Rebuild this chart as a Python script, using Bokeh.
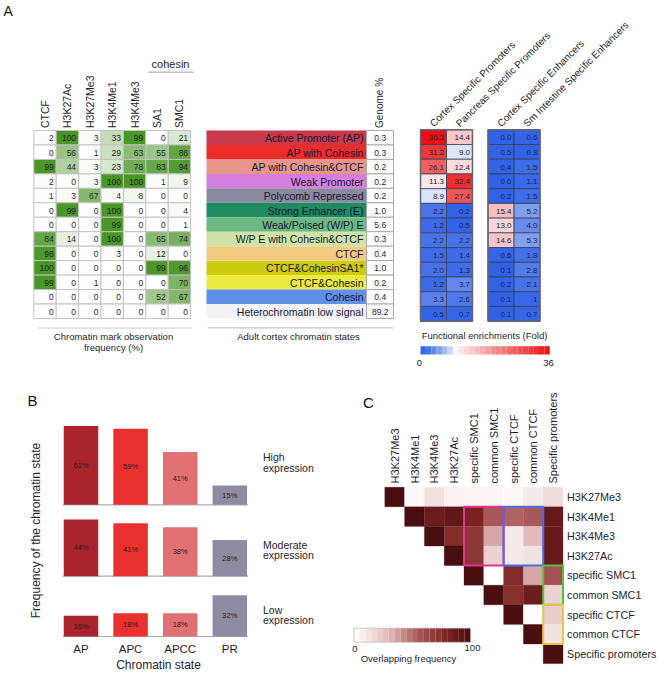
import math
from bokeh.plotting import figure
from bokeh.models import Range1d
from bokeh.core.properties import value
from bokeh.embed import file_html
from bokeh.resources import INLINE

FONT = value("Liberation Sans")

# ---------------- Panel A data ----------------
mark_names = ["CTCF", "H3K27Ac", "H3K27Me3", "H3K4Me1", "H3K4Me3", "SA1", "SMC1"]
state_names = ["Active Promoter (AP)", "AP with Cohesin", "AP with Cohesin&CTCF", "Weak Promoter",
               "Polycomb Repressed", "Strong Enhancer (E)", "Weak/Poised (W/P) E",
               "W/P E with Cohesin&CTCF", "CTCF", "CTCF&CohesinSA1*", "CTCF&Cohesin", "Cohesin",
               "Heterochromatin low signal"]
state_colors = ["#c8394b", "#ec2b2b", "#e8968c", "#d57fe0", "#8c8aa0", "#1f8a60", "#6cb884",
                "#cfe4a8", "#f3cc84", "#cdcc10", "#ecec40", "#6090e8", "#f3f3f3"]
freq_ctcf = [2, 0, 99, 2, 1, 0, 0, 84, 98, 100, 99, 0, 0]
freq_h3k27ac = [100, 56, 44, 0, 3, 99, 0, 14, 0, 0, 0, 0, 0]
freq_h3k27me3 = [3, 1, 3, 3, 67, 0, 0, 0, 0, 0, 1, 0, 0]
freq_h3k4me1 = [33, 29, 23, 100, 4, 100, 99, 100, 3, 0, 0, 0, 0]
freq_h3k4me3 = [99, 63, 78, 100, 8, 0, 0, 0, 0, 0, 0, 0, 0]
freq_sa1 = [0, 55, 83, 1, 0, 0, 0, 65, 12, 99, 0, 52, 0]
freq_smc1 = [21, 86, 94, 9, 0, 4, 1, 74, 0, 96, 70, 67, 0]
genome_pct = [0.3, 0.3, 0.2, 0.2, 0.2, 1.0, 5.6, 0.3, 0.4, 1.0, 0.2, 0.4, 89.2]

enrich_names = ["Cortex Specific Promoters", "Pancreas Specific Promoters",
                "Cortex Specific Enhancers", "Sm Intestine Specific Enhancers"]
cortex_prom = [36.3, 31.2, 26.1, 11.3, 8.9, 2.2, 1.2, 2.2, 1.5, 2.0, 1.2, 3.3, 0.5]
pancreas_prom = [14.4, 9.0, 12.4, 32.4, 27.4, 0.2, 0.5, 2.2, 1.4, 1.3, 3.7, 2.6, 0.7]
cortex_enh = [0.0, 0.5, 0.4, 0.0, 0.2, 15.4, 13.0, 14.6, 0.6, 0.1, 0.2, 0.1, 0.1]
smint_enh = [0.6, 0.3, 1.5, 1.1, 1.5, 5.2, 4.0, 5.3, 1.8, 2.8, 2.1, 1, 0.7]
enrich_max = 36

# ---------------- Panel B data ----------------
b_states = ["AP", "APC", "APCC", "PR"]
b_colors = ["#a8232b", "#e8302f", "#e07276", "#8e8ba2"]
b_high = [61, 59, 41, 15]
b_moderate = [44, 41, 38, 28]
b_low = [16, 18, 18, 32]
b_levels = [("High", "expression"), ("Moderate", "expression"), ("Low", "expression")]

# ---------------- Panel C data ----------------
c_names = ["H3K27Me3", "H3K4Me1", "H3K4Me3", "H3K27Ac", "specific SMC1", "common SMC1",
           "specific CTCF", "common CTCF", "Specific promoters"]
c_rows = [
    [100, 3, 14, 6, 5, 5, 3, 10, 16],
    [100, 86, 90, 80, 55, 52, 55, 88],
    [100, 76, 70, 35, 10, 30, 88],
    [100, 70, 20, 10, 13, 88],
    [100, 0, 76, 35, 58],
    [100, 74, 86, 20],
    [100, 0, 22],
    [100, 12],
    [100],
]


def hexc(c):
    return "#%02x%02x%02x" % tuple(int(round(max(0, min(255, v)))) for v in c)


def lerp(a, b, t):
    return tuple(a[k] + (b[k] - a[k]) * t for k in range(3))


def green(v):
    return hexc(lerp((255, 255, 255), (72, 150, 36), v / 100.0))


def enrich_color(v):
    mid = 10.0
    if v <= mid:
        t = (v / mid) ** 1.4
        return hexc(lerp((48, 98, 232), (250, 250, 252), t))
    t = ((v - mid) / (enrich_max - mid)) ** 0.9
    return hexc(lerp((250, 246, 246), (236, 16, 16), min(t, 1)))


maroon_stops = [(0.0, (255, 255, 255)), (0.3, (226, 188, 188)), (0.55, (168, 88, 88)),
                (0.8, (122, 34, 34)), (1.0, (72, 14, 16))]


def maroon(v):
    t = v / 100.0
    for (t0, c0), (t1, c1) in zip(maroon_stops[:-1], maroon_stops[1:]):
        if t <= t1:
            return hexc(lerp(c0, c1, (t - t0) / (t1 - t0)))
    return hexc(maroon_stops[-1][1])


p = figure(width=658, height=673, x_range=Range1d(0, 658), y_range=Range1d(673, 0),
           x_axis_type=None, y_axis_type=None, output_backend="svg", toolbar_location=None,
           min_border=0, outline_line_color=None, background_fill_color="white")


def txt(x, y, s, size, align="center", baseline="middle", angle=0.0, color="#222222", style="normal"):
    if not isinstance(x, list):
        x, y, s = [x], [y], [s]
    p.text(x=x, y=y, text=s, text_font=FONT, text_font_size=size, text_align=align,
           text_baseline=baseline, angle=angle, text_color=color, text_font_style=style)


TXT = "#1e1e2a"

# ======== Panel A ========
txt(3, 2, "A", "14px", align="left", baseline="top", color="#111111")

# left heatmap: mark observation frequency
LX0, LCW, LY0, LRH = 33.3, 22.4, 130.0, 14.46
freq_cols = [freq_ctcf, freq_h3k27ac, freq_h3k27me3, freq_h3k4me1, freq_h3k4me3, freq_sa1, freq_smc1]
L, R, T, B, C, TX, TY, TS = [], [], [], [], [], [], [], []
for j, col in enumerate(freq_cols):
    for i, v in enumerate(col):
        l = LX0 + j * LCW
        t = LY0 + i * LRH
        L.append(l); R.append(l + LCW); T.append(t); B.append(t + LRH); C.append(green(v))
        TX.append(l + LCW - 2.5); TY.append(t + LRH / 2 + 0.5); TS.append(str(v))
p.quad(left=L, right=R, top=T, bottom=B, fill_color=C, line_color="#c2c2c2", line_width=1)
txt(TX, TY, TS, "8.5px", align="right", color=TXT)
txt([LX0 + (j + 0.5) * LCW for j in range(len(mark_names))], [127.5] * len(mark_names),
    mark_names, "10.5px", align="left", angle=math.pi / 2, color=TXT)
txt(170, 63.5, "cohesin", "11px", color=TXT)
p.segment(x0=[148], y0=[71.7], x1=[193], y1=[71.7], line_color="#bdbdbd", line_width=1.5)
p.segment(x0=[37], y0=[327.5], x1=[192], y1=[327.5], line_color="#c8c8c8", line_width=1.2)
txt(113, 336, "Chromatin mark observation", "9.5px", color=TXT)
txt(113, 346.5, "frequency (%)", "9.5px", color=TXT)

# chromatin states column
SX0, SX1, GX1 = 206.0, 365.5, 393.0
n = len(state_names)
p.quad(left=[SX0] * n, right=[SX1] * n, top=[LY0 + i * LRH for i in range(n)],
       bottom=[LY0 + (i + 1) * LRH for i in range(n)], fill_color=state_colors, line_color=None)
txt([SX1 - 2.5] * n, [LY0 + (i + 0.5) * LRH + 0.5 for i in range(n)], state_names, "10.5px",
    align="right", color="#161630")
p.quad(left=[SX1 + 0.5] * n, right=[GX1] * n, top=[LY0 + i * LRH for i in range(n)],
       bottom=[LY0 + (i + 1) * LRH for i in range(n)], fill_color="white", line_color="#a8a8a8",
       line_width=1)
txt([(SX1 + GX1) / 2 + 0.5] * n, [LY0 + (i + 0.5) * LRH + 0.5 for i in range(n)],
    ["%.1f" % v for v in genome_pct], "8.5px", color=TXT)
txt((SX1 + GX1) / 2, 127.5, "Genome %", "10px", align="left", angle=math.pi / 2, color=TXT)
p.segment(x0=[207], y0=[327.3], x1=[393], y1=[327.3], line_color="#c8c8c8", line_width=1.2)
txt(298, 335.5, "Adult cortex chromatin states", "9.5px", color=TXT)

# functional enrichment heatmaps
EY0, ERH, ECW = 129.3, 14.72, 26.0
block_x = [420.0, 446.0, 487.5, 513.5]
enrich_cols = [cortex_prom, pancreas_prom, cortex_enh, smint_enh]
L, R, T, B, C, TX, TY, TS = [], [], [], [], [], [], [], []
for j, col in enumerate(enrich_cols):
    for i, v in enumerate(col):
        l = block_x[j]
        t = EY0 + i * ERH
        L.append(l); R.append(l + ECW); T.append(t); B.append(t + ERH); C.append(enrich_color(v))
        TX.append(l + ECW - 2.5); TY.append(t + ERH / 2 + 0.5)
        TS.append(str(v) if isinstance(v, int) else "%.1f" % v)
p.quad(left=L, right=R, top=T, bottom=B, fill_color=C, line_color="#3c3c55", line_width=0.8)
for bx in (block_x[0], block_x[2]):
    p.quad(left=[bx], right=[bx + 2 * ECW], top=[EY0], bottom=[EY0 + n * ERH], fill_color=None,
           line_color="#666677", line_width=1.5)
txt(TX, TY, TS, "8px", align="right", color="#22223a")
txt([bx + ECW / 2 - 2 for bx in block_x], [124.5] * 4, enrich_names, "10px", align="left",
    angle=math.pi / 4, color=TXT)

# enrichment colour bar
CB_X0, CB_X1, CB_Y0, CB_Y1, NSTEP = 420.0, 549.3, 345.7, 354.0, 24
step_w = (CB_X1 - CB_X0) / NSTEP
p.quad(left=[CB_X0 + k * step_w for k in range(NSTEP)],
       right=[CB_X0 + (k + 1) * step_w for k in range(NSTEP)],
       top=[CB_Y0] * NSTEP, bottom=[CB_Y1] * NSTEP,
       fill_color=[enrich_color((k + 0.5) / NSTEP * enrich_max) for k in range(NSTEP)],
       line_color=None)
txt(484, 335, "Functional enrichments (Fold)", "9.5px", color=TXT)
txt(419, 362.5, "0", "9.5px", color=TXT)
txt(548, 362.5, str(enrich_max), "9.5px", color=TXT)

# ======== Panel B ========
txt(32, 400, "B", "15px", color="#111111")
BX0, BDX, BW, SCALE = 80.5, 49.6, 34.5, 1.29
baselines = [504.3, 575.7, 636.0]
level_vals = [b_high, b_moderate, b_low]
level_label_y = [461.5, 549.0, 614.3]
for lv, base, ly, (w1, w2) in zip(level_vals, baselines, level_label_y, b_levels):
    xs = [BX0 + k * BDX for k in range(len(b_states))]
    p.segment(x0=[xs[0] - BW / 2 - 1], y0=[base], x1=[xs[-1] + BW / 2 + 1], y1=[base],
              line_color="#a9a9b0", line_width=1.2)
    p.vbar(x=xs, width=BW, bottom=[base] * len(xs), top=[base - v * SCALE for v in lv],
           fill_color=b_colors, line_color=None)
    txt(xs, [base - v * SCALE / 2 for v in lv], ["%d%%" % v for v in lv], "7.5px",
        color="#3a1518")
    txt(262.5, ly - 5, w1, "10.5px", align="left", color=TXT)
    txt(262.5, ly + 5.5, w2, "10.5px", align="left", color=TXT)
txt([BX0 + k * BDX for k in range(len(b_states))], [648.0] * len(b_states), b_states, "11.5px",
    color=TXT)
txt(158, 664.5, "Chromatin state", "12px", color=TXT)
txt(35, 530, "Frequency of the chromatin state", "12px", angle=math.pi / 2, color=TXT)

# ======== Panel C ========
txt(368, 402, "C", "15px", color="#111111")
CX0, CCW, CY0, CRH = 384.3, 19.8, 486.7, 19.6
L, R, T, B, C = [], [], [], [], []
for i, row in enumerate(c_rows):
    for k, v in enumerate(row):
        j = i + k
        L.append(CX0 + j * CCW); R.append(CX0 + (j + 1) * CCW)
        T.append(CY0 + i * CRH); B.append(CY0 + (i + 1) * CRH); C.append(maroon(v))
p.quad(left=L, right=R, top=T, bottom=B, fill_color=C, line_color=C, line_width=0.3)
m = len(c_names)
txt([CX0 + (j + 0.5) * CCW for j in range(m)], [483.0] * m, c_names, "11px", align="left",
    angle=math.pi / 2, color=TXT)
txt([CX0 + m * CCW + 4.0] * m, [CY0 + (i + 0.5) * CRH for i in range(m)], c_names, "10.8px",
    align="left", color=TXT)
# highlight boxes (row range, column range, colour)
boxes = [((1, 4), (4, 6), "#e0358f"), ((1, 4), (6, 8), "#4d6de0"),
         ((4, 6), (8, 9), "#5cbf3c"), ((6, 8), (8, 9), "#e8c545")]
for (r0, r1), (c0, c1), col in boxes:
    p.quad(left=[CX0 + c0 * CCW], right=[CX0 + c1 * CCW], top=[CY0 + r0 * CRH],
           bottom=[CY0 + r1 * CRH], fill_color=None, line_color=col, line_width=2)

# overlap colour bar
OB_X0, OB_X1, OB_Y0, OB_Y1, ONSTEP = 353.3, 470.0, 627.7, 641.7, 20
ow = (OB_X1 - OB_X0) / ONSTEP
p.quad(left=[OB_X0 + k * ow for k in range(ONSTEP)], right=[OB_X0 + (k + 1) * ow for k in range(ONSTEP)],
       top=[OB_Y0] * ONSTEP, bottom=[OB_Y1] * ONSTEP,
       fill_color=[maroon((k + 0.5) / ONSTEP * 100) for k in range(ONSTEP)], line_color=None)
p.quad(left=[OB_X0], right=[OB_X1], top=[OB_Y0], bottom=[OB_Y1], fill_color=None,
       line_color="#b0a8a8", line_width=0.6)
txt(354.5, 648.5, "0", "9.5px", color=TXT)
txt(472, 647, "100", "9.5px", color=TXT)
txt(408, 658, "Overlapping frequency", "9.5px", color=TXT)

open("out.html", "w").write(file_html(p, INLINE))
